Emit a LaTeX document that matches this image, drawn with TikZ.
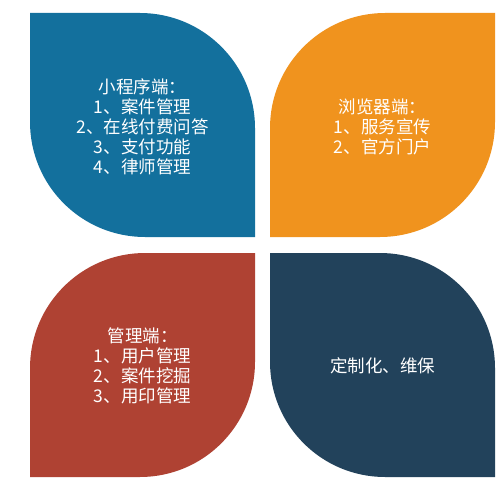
\documentclass[tikz,border=0pt]{standalone}
\usepackage{fontspec}
\usepackage{tikz}
\newfontfamily\cjk{Noto Sans CJK SC}
\definecolor{leafblue}{RGB}{19,112,157}
\definecolor{leaforange}{RGB}{240,147,30}
\definecolor{leafred}{RGB}{175,66,51}
\definecolor{leafnavy}{RGB}{34,66,91}
\tikzset{leaftext/.style={align=center, text=white, inner sep=0pt, font=\cjk\fontsize{17.5pt}{20pt}\selectfont}}
\begin{document}
\begin{tikzpicture}[x=1pt,y=1pt]
\useasboundingbox (0,0) rectangle (503,499);
\fill[leafblue] (30,486) -- (140,486) arc[start angle=90, end angle=0, radius=115pt] -- (255,262) -- (145,262) arc[start angle=270, end angle=180, radius=115pt] -- cycle;
\fill[leaforange] (495,486) -- (495,377) arc[start angle=0, end angle=-90, radius=115pt] -- (270,262) -- (270,371) arc[start angle=180, end angle=90, radius=115pt] -- cycle;
\fill[leafred] (255,246) -- (255,137) arc[start angle=0, end angle=-90, radius=115pt] -- (30,22) -- (30,131) arc[start angle=180, end angle=90, radius=115pt] -- cycle;
\fill[leafnavy] (270,246) -- (380,246) arc[start angle=90, end angle=0, radius=115pt] -- (495,22) -- (385,22) arc[start angle=270, end angle=180, radius=115pt] -- cycle;
\node[leaftext] (miniapp) at (142.5,372) {小程序端：\\1、案件管理\\2、在线付费问答\\3、支付功能\\4、律师管理};
\node[leaftext] (browser) at (382.5,372) {浏览器端：\\1、服务宣传\\2、官方门户};
\node[leaftext] (admin) at (142.5,133) {管理端：\\1、用户管理\\2、案件挖掘\\3、用印管理};
\node[leaftext] (service) at (382.5,133) {定制化、维保};
\end{tikzpicture}
\end{document}
